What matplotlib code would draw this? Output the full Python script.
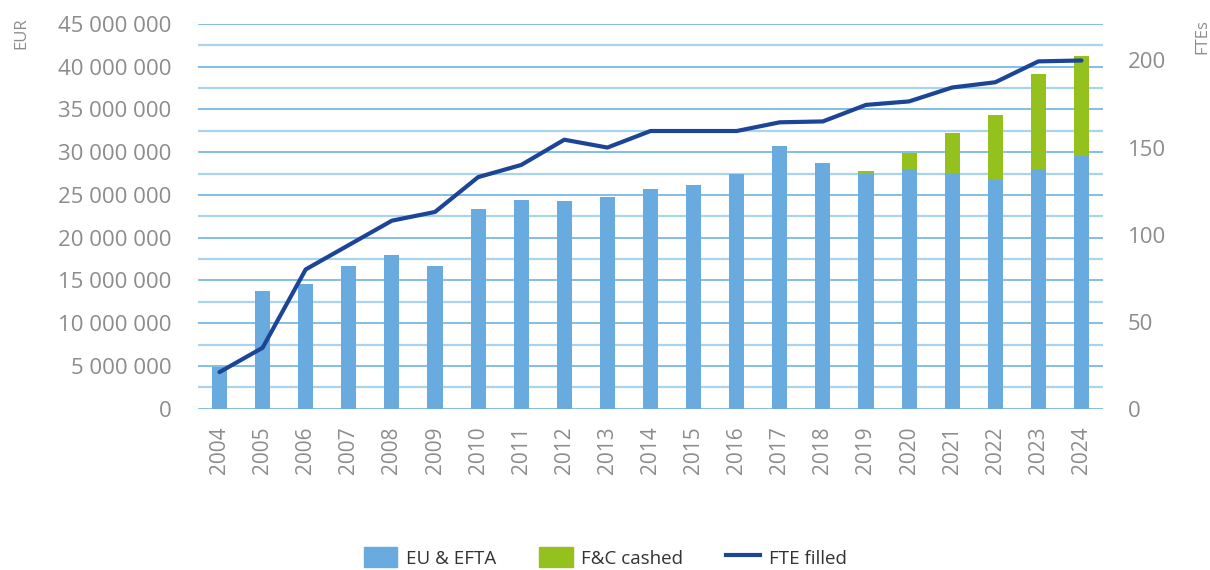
import numpy as np
import matplotlib.pyplot as plt
import matplotlib as mpl
from matplotlib.ticker import FuncFormatter, MultipleLocator
from matplotlib.lines import Line2D
from matplotlib.patches import Patch

mpl.rcParams['font.family'] = ['Open Sans', 'DejaVu Sans']
mpl.rcParams['font.size'] = 15

# Data
years = [str(y) for y in range(2004, 2025)]
eu_efta = [4.9, 13.8, 14.6, 16.7, 18.0, 16.7, 23.3, 24.4, 24.3, 24.8, 25.7,
           26.2, 27.4, 30.7, 28.7, 27.5, 28.0, 27.6, 26.7, 28.0, 29.5]  # million EUR
fc_cashed = [0, 0, 0, 0, 0, 0, 0, 0, 0, 0, 0,
             0, 0, 0, 0, 0.3, 1.95, 4.6, 7.7, 11.1, 11.8]  # million EUR
fte_filled = [21, 35, 80, 94, 108, 113, 133, 140, 154.5, 150, 159.5,
              159.5, 159.5, 164.5, 165, 174.5, 176.5, 184.5, 187.5, 199.5, 200]

blue = '#69abdf'
green = '#95c11f'
navy = '#1c4596'
grid_major = '#6cb4e2'
grid_minor = '#a9d3ee'
txt = '#8c8c8c'

eu = np.array(eu_efta) * 1e6
fc = np.array(fc_cashed) * 1e6
x = np.arange(len(years))

fig = plt.figure(figsize=(12.1, 5.7), dpi=100)
ax = fig.add_axes([0.1636, 0.283, 0.748, 0.675])

ax.bar(x, eu, width=0.35, color=blue, zorder=2)
ax.bar(x, fc, width=0.35, bottom=eu, color=green, zorder=2)

ax.set_xlim(-0.5, len(years) - 0.5)
ax.set_ylim(0, 45e6)
ax.yaxis.set_major_locator(MultipleLocator(5e6))
ax.yaxis.set_minor_locator(MultipleLocator(2.5e6))
ax.yaxis.set_major_formatter(FuncFormatter(lambda v, p: f'{int(v):,}'.replace(',', ' ')))
ax.grid(axis='y', which='major', color=grid_major, lw=1.2)
ax.grid(axis='y', which='minor', color=grid_minor, lw=1.6)
ax.set_axisbelow(True)
ax.set_xticks(x)
ax.set_xticklabels(years, rotation=90)
ax.tick_params(axis='both', which='both', length=0, colors=txt, labelsize=16)
ax.tick_params(axis='x', pad=13, labelsize=15)
ax.tick_params(axis='y', pad=19)
for s in ax.spines.values():
    s.set_visible(False)
ax.set_ylabel('EUR', color=txt, fontsize=12)
ax.yaxis.set_label_coords(-0.186, 0.975)

ax2 = ax.twinx()
ax2.plot(x, fte_filled, color=navy, lw=3, solid_capstyle='round', zorder=3)
ax2.set_ylim(0, 221)
ax2.set_yticks([0, 50, 100, 150, 200])
ax2.tick_params(axis='y', length=0, colors=txt, labelsize=16, pad=18)
for s in ax2.spines.values():
    s.set_visible(False)
ax2.set_ylabel('FTEs', color=txt, fontsize=12)
ax2.yaxis.set_label_coords(1.101, 0.968)

handles = [Patch(color=blue), Patch(color=green), Line2D([0], [0], color=navy, lw=3)]
fig.legend(handles, ['EU & EFTA', 'F&C cashed', 'FTE filled'], loc='center',
           bbox_to_anchor=(0.5, 0.022), ncol=3, frameon=False, fontsize=13.5,
           handlelength=1.8, handleheight=1.25, columnspacing=2.3, handletextpad=0.45,
           labelcolor='#333333')

fig.savefig('out.png', dpi=100)
